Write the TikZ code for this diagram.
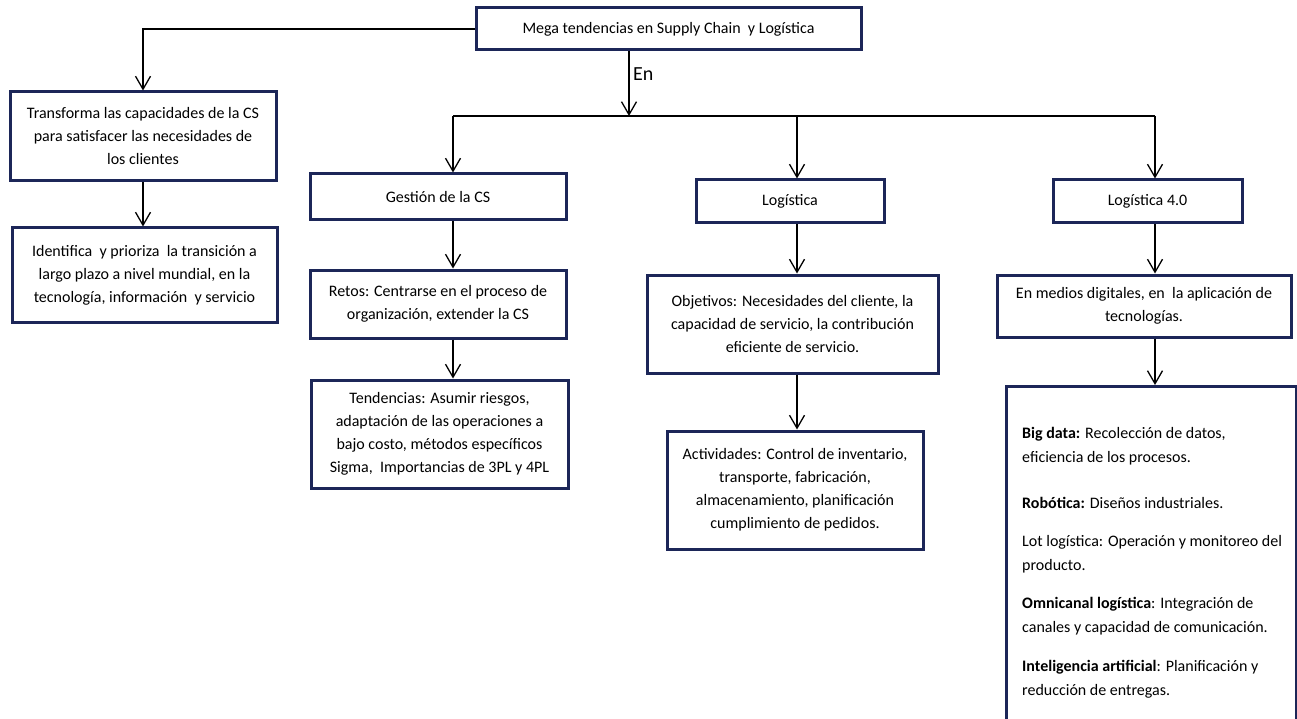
\documentclass[tikz,border=0pt]{standalone}
\usepackage{fontspec}
\setmainfont{Carlito}
\usetikzlibrary{arrows.meta}
\definecolor{navy}{RGB}{28,38,88}
\begin{document}
\begin{tikzpicture}[x=1pt,y=-1pt,
  box/.style={draw=navy, line width=3pt, fill=white, align=center, inner sep=4pt,
    font=\fontsize{16}{23}\selectfont},
  arr/.style={draw=black, line width=1.4pt,
    -{Straight Barb[length=13pt,width=15pt,line width=1.3pt]}},
  link/.style={draw=black, line width=1.4pt}]
\useasboundingbox (0,0) rectangle (1297,719);
\clip (0,0) rectangle (1297,719);
\fill[white] (0,0) rectangle (1297,719);

% root
\node[box, minimum width=385, minimum height=42] (top) at (668.5,29)
  {Mega tendencias en Supply Chain~ y Logística};

% left branch
\node[box, minimum width=266, minimum height=89] (t1) at (143,136.5)
  {Transforma las capacidades de la CS\\para satisfacer las necesidades de\\los clientes};
\node[box, minimum width=265, minimum height=94] (t2) at (144.5,275)
  {Identifica~ y prioriza~ la transición a\\largo plazo a nivel mundial, en la\\tecnología, información~ y servicio};

% supply chain management branch
\node[box, minimum width=256, minimum height=46] (g1) at (438,197) {Gestión de la CS};
\node[box, minimum width=256, minimum height=68] (g2) at (438,304)
  {Retos: Centrarse en el proceso de\\organización, extender la CS};
\node[box, minimum width=257, minimum height=108] (g3) at (439.5,434)
  {Tendencias: Asumir riesgos,\\adaptación de las operaciones a\\bajo costo, métodos específicos\\Sigma,~ Importancias de 3PL y 4PL};

% logistics branch
\node[box, minimum width=188, minimum height=43] (l1) at (790,201.5) {Logística};
\node[box, minimum width=291, minimum height=98] (l2) at (792.5,324)
  {Objetivos: Necesidades del cliente, la\\capacidad de servicio, la contribución\\eficiente de servicio.};
\node[box, minimum width=256, minimum height=118] (l3) at (795,490)
  {Actividades: Control de inventario,\\transporte, fabricación,\\almacenamiento, planificación\\cumplimiento de pedidos.};

% logistics 4.0 branch
\node[box, minimum width=189, minimum height=43] (d1) at (1147.5,201.5) {Logística 4.0};
\node[box, minimum width=294, minimum height=62] (d2) at (1144,306)
  {En medios digitales, en~ la aplicación de\\tecnologías.};
\node[box, minimum width=290, minimum height=350, anchor=north west] (d3) at (1005,385) {};
\node[anchor=north west, align=left, inner sep=0pt, font=\fontsize{16}{24}\selectfont]
  (d3text) at (1022,427)
  {\textbf{Big data:} Recolección de datos,\\
   eficiencia de los procesos.\\[22pt]
   \textbf{Robótica:} Diseños industriales.\\[14pt]
   Lot logística: Operación y monitoreo del\\
   producto.\\[14pt]
   \textbf{Omnicanal logística}: Integración de\\
   canales y capacidad de comunicación.\\[15pt]
   \textbf{Inteligencia artificial}: Planificación y\\
   reducción de entregas.};

% connectors
\draw[arr] (top.west) -| (t1.north);
\draw[arr] (t1.south) -- (t1.south |- t2.north);

\coordinate (bus) at (629,116);
\coordinate (gx) at (453,116);
\coordinate (lx) at (797,116);
\coordinate (dx) at (1155,116);
\draw[arr] (top.south -| bus) -- (bus);
\node[anchor=west, inner sep=0pt, font=\fontsize{20}{24}\selectfont] (en) at (633,74) {En};
\draw[link] (gx) -- (dx);
\draw[arr] (gx) -- (gx |- g1.north);
\draw[arr] (lx) -- (lx |- l1.north);
\draw[arr] (dx) -- (dx |- d1.north);

\draw[arr] (gx |- g1.south) -- (gx |- g2.north);
\draw[arr] (gx |- g2.south) -- (gx |- g3.north);
\draw[arr] (lx |- l1.south) -- (lx |- l2.north);
\draw[arr] (lx |- l2.south) -- (lx |- l3.north);
\draw[arr] (dx |- d1.south) -- (dx |- d2.north);
\draw[arr] (dx |- d2.south) -- (dx |- d3.north);
\end{tikzpicture}
\end{document}
